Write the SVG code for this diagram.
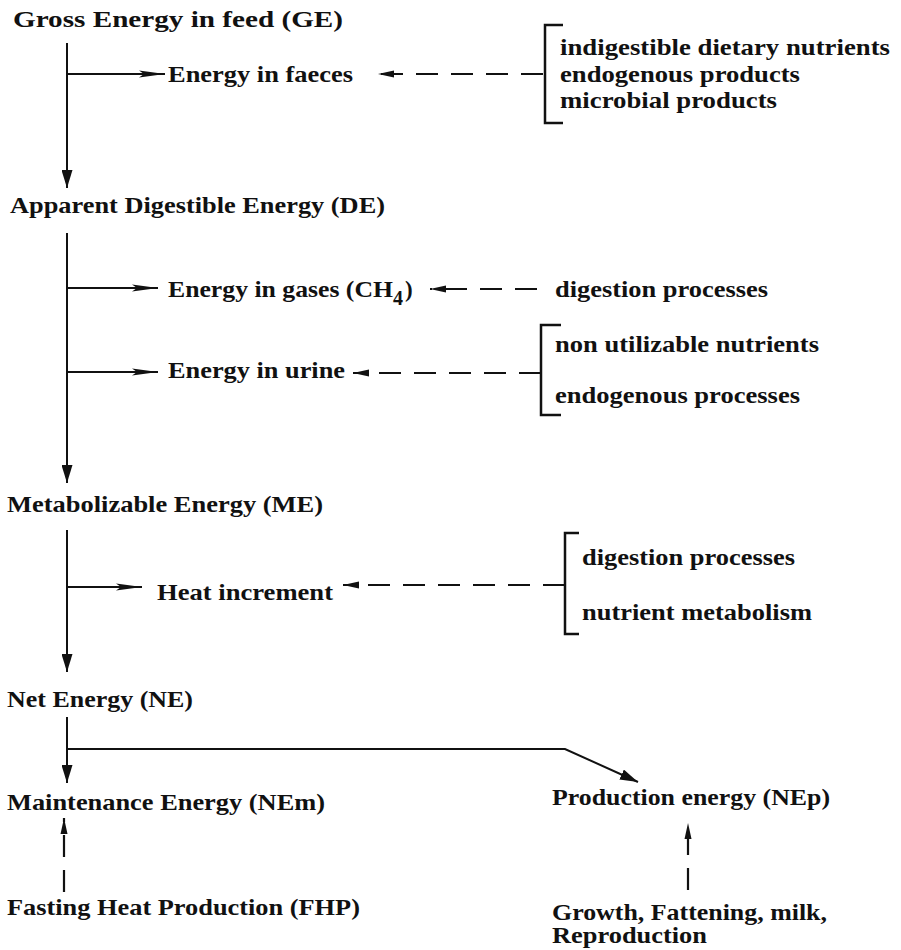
<svg xmlns="http://www.w3.org/2000/svg" width="901" height="950" viewBox="0 0 901 950">
<style>
text{font-family:"Liberation Serif","Times New Roman",serif;font-size:23px;font-weight:bold;fill:#111}
.ln{fill:none;stroke:#111;stroke-width:2}
.ds{fill:none;stroke:#111;stroke-width:2.2;stroke-dasharray:22 13}
.br{fill:none;stroke:#111;stroke-width:2.5}
</style>
<defs>
<marker id="aDown" markerUnits="userSpaceOnUse" markerWidth="18" markerHeight="11" refX="18" refY="5.5" orient="auto"><path d="M0,0 L18,5.5 L0,11 z" fill="#111"/></marker>
<marker id="aBr" markerUnits="userSpaceOnUse" markerWidth="26" markerHeight="8" refX="26" refY="4" orient="auto"><path d="M0,0.5 L26,4 L0,7.5 L5,4 z" fill="#111"/></marker>
<marker id="aDs" markerUnits="userSpaceOnUse" markerWidth="16" markerHeight="8" refX="16" refY="4" orient="auto"><path d="M0,0.5 L16,4 L0,7.5 z" fill="#111"/></marker>
</defs>

<g id="connectors">
<path class="ln" d="M67,43 V188" marker-end="url(#aDown)"/>
<path class="ln" d="M67,74 H165" marker-end="url(#aBr)"/>
<path class="ln" d="M67,233 V483" marker-end="url(#aDown)"/>
<path class="ln" d="M67,288 H158" marker-end="url(#aBr)"/>
<path class="ln" d="M67,372 H158" marker-end="url(#aBr)"/>
<path class="ln" d="M67,530 V672" marker-end="url(#aDown)"/>
<path class="ln" d="M67,587 H142" marker-end="url(#aBr)"/>
<path class="ln" d="M67,717 V783" marker-end="url(#aDown)"/>
<path class="ln" d="M67,749 H565 L638,782" marker-end="url(#aDown)"/>
<path class="ds" d="M543,74 H378" marker-end="url(#aDs)"/>
<path class="ds" d="M537,289 H430" marker-end="url(#aDs)"/>
<path class="ds" d="M541,373 H353" marker-end="url(#aDs)"/>
<path class="ds" d="M565,585 H343" marker-end="url(#aDs)"/>
<path class="ds" d="M64,892 V818" marker-end="url(#aDs)"/>
<path class="ds" d="M688,890 V823" marker-end="url(#aDs)"/>
</g>

<g id="ge"><text x="13" y="27" textLength="330" lengthAdjust="spacingAndGlyphs">Gross Energy in feed (GE)</text></g>
<g id="faeces"><text x="168" y="82" textLength="185" lengthAdjust="spacingAndGlyphs">Energy in faeces</text></g>
<g id="faeces-sources">
<path class="br" d="M563,25 H545 V123 H563"/>
<text x="560" y="55" textLength="330" lengthAdjust="spacingAndGlyphs">indigestible dietary nutrients</text>
<text x="560" y="82" textLength="240" lengthAdjust="spacingAndGlyphs">endogenous products</text>
<text x="560" y="108" textLength="217" lengthAdjust="spacingAndGlyphs">microbial products</text>
</g>
<g id="de"><text x="10" y="213" textLength="375" lengthAdjust="spacingAndGlyphs">Apparent Digestible Energy (DE)</text></g>
<g id="gases">
<text x="168" y="297" textLength="225" lengthAdjust="spacingAndGlyphs">Energy in gases (CH</text>
<text x="393" y="305" style="font-size:20px">4</text>
<text x="405" y="297">)</text>
</g>
<g id="gases-source"><text x="555" y="297" textLength="213" lengthAdjust="spacingAndGlyphs">digestion processes</text></g>
<g id="urine"><text x="168" y="378" textLength="177" lengthAdjust="spacingAndGlyphs">Energy in urine</text></g>
<g id="urine-sources">
<path class="br" d="M561,325 H541 V415 H561"/>
<text x="555" y="352" textLength="264" lengthAdjust="spacingAndGlyphs">non utilizable nutrients</text>
<text x="555" y="403" textLength="245" lengthAdjust="spacingAndGlyphs">endogenous processes</text>
</g>
<g id="me"><text x="7" y="512" textLength="316" lengthAdjust="spacingAndGlyphs">Metabolizable Energy (ME)</text></g>
<g id="heat"><text x="157" y="600" textLength="176" lengthAdjust="spacingAndGlyphs">Heat increment</text></g>
<g id="heat-sources">
<path class="br" d="M579,533 H565 V634 H579"/>
<text x="582" y="565" textLength="213" lengthAdjust="spacingAndGlyphs">digestion processes</text>
<text x="582" y="620" textLength="230" lengthAdjust="spacingAndGlyphs">nutrient metabolism</text>
</g>
<g id="ne"><text x="7" y="707" textLength="186" lengthAdjust="spacingAndGlyphs">Net Energy (NE)</text></g>
<g id="nem"><text x="7" y="810" textLength="318" lengthAdjust="spacingAndGlyphs">Maintenance Energy (NEm)</text></g>
<g id="nep"><text x="552" y="805" textLength="278" lengthAdjust="spacingAndGlyphs">Production energy (NEp)</text></g>
<g id="fhp"><text x="7" y="915" textLength="353" lengthAdjust="spacingAndGlyphs">Fasting Heat Production (FHP)</text></g>
<g id="growth">
<text x="552" y="920" textLength="275" lengthAdjust="spacingAndGlyphs">Growth, Fattening, milk,</text>
<text x="552" y="943" textLength="155" lengthAdjust="spacingAndGlyphs">Reproduction</text>
</g>
</svg>
